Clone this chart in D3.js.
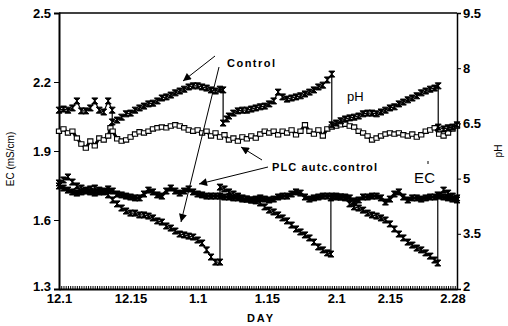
<!DOCTYPE html>
<html>
<head>
<meta charset="utf-8">
<script src="https://cdn.jsdelivr.net/npm/d3@7"></script>
<style>
  body { margin: 0; background: #fff; }
  svg { display: block; font-family: "Liberation Sans", Arial, Helvetica, sans-serif; }
</style>
</head>
<body>
<div id="chart"></div>
<script>
// Day 0 = 12.1.
const dayTicks = [0, 16, 31, 46.5, 62, 74, 88]
const dayLabels = ['12.1', '12.15', '1.1', '1.15', '2.1', '2.15', '2.28']
const ecTicks = [1.3, 1.6, 1.9, 2.2, 2.5]
const phTicks = [2, 3.5, 5, 6.5, 8, 9.5]

// [day, pH] control (no PLC), sawtooth with manual resets.
const controlPH = [
  [0,6.86],[1,6.89],[2,6.86],[3,6.92],[4,7.11],[5,6.84],[6,6.84],[7,6.92],[8,7.11],[9,6.86],[10,6.81],[11,7.11],
  [11.9,6.86],[11.9,6.54],[13,6.59],[14,6.67],[15,6.76],[16,6.78],[17,6.86],[18,6.92],[19,6.97],[20,7.03],
  [21,7.05],[22,7.11],[23,7.19],[24,7.22],[25,7.27],[26,7.33],[27,7.38],[28,7.43],[29,7.49],[30,7.52],[31,7.52],
  [32,7.49],[33,7.46],[34,7.41],[35,7.38],[36,7.43],[36.7,7.41],[36.7,6.51],[37.5,6.62],[38,6.70],[39,6.78],
  [40,6.84],[41,6.86],[42,6.86],[43,6.89],[44,6.92],[45,6.95],[46,6.97],[47,7.03],[48,7.11],[49,7.35],[50,7.22],
  [51,7.16],[52,7.19],[53,7.22],[54,7.25],[55,7.30],[56,7.35],[57,7.41],[58,7.49],[59,7.54],[60,7.68],[61,7.84],
  [61,6.46],[62,6.51],[63,6.57],[64,6.62],[65,6.65],[66,6.67],[67,6.70],[68,6.76],[69,6.78],[70,6.78],[71,6.76],
  [72,6.81],[73,6.86],[74,6.92],[75,6.95],[76,7.03],[77,7.08],[78,7.14],[79,7.19],[80,7.25],[81,7.33],[82,7.38],
  [83,7.43],[84,7.46],[84.8,7.52],[84.8,6.40],[86,6.35],[87,6.38],[88,6.40],[89,6.46]
]

// [day, pH] PLC automatic control.
const plcPH = [
  [0,6.29],[1,6.35],[2,6.24],[3,6.29],[4,6.10],[5,5.94],[6,5.83],[7,6.02],[8,5.89],[9,6.10],[10,6.05],[11,6.16],
  [11.5,6.38],[12,6.29],[13,6.08],[14,6.02],[15,6.05],[16,6.13],[17,6.21],[18,6.27],[19,6.24],[20,6.29],[21,6.35],
  [22,6.38],[23,6.40],[24,6.38],[25,6.43],[26,6.46],[27,6.43],[28,6.38],[29,6.32],[30,6.29],[31,6.32],[32,6.24],
  [33,6.29],[34,6.16],[35,6.24],[36,6.13],[37,6.19],[38,6.05],[39,6.10],[40,6.02],[41,6.13],[42,6.08],[43,6.16],
  [44,6.10],[45,6.21],[46,6.29],[47,6.24],[48,6.29],[49,6.19],[50,6.29],[51,6.24],[52,6.32],[53,6.19],[54,6.29],
  [55,6.46],[56,6.29],[57,6.21],[58,6.32],[59,6.16],[60,6.35],[61,6.40],[62,6.43],[63,6.46],[64,6.48],[65,6.43],
  [66,6.40],[67,6.29],[68,6.24],[69,6.16],[70,6.05],[71,6.10],[72,6.16],[73,6.21],[74,6.24],[75,6.21],[76,6.24],
  [77,6.19],[78,6.16],[79,6.21],[80,6.13],[81,6.19],[82,6.29],[83,6.32],[84,6.38],[85,6.21],[86,6.16],[87,6.24],
  [88,6.35],[89,6.43]
]

// [day, EC mS/cm] control, falls then reset.
const controlEC = [
  [0,1.761],[1,1.774],[2,1.787],[3,1.765],[4,1.748],[5,1.739],[6,1.730],[7,1.735],[8,1.739],[9,1.730],[10,1.722],
  [11,1.709],[12,1.687],[13,1.670],[14,1.652],[15,1.639],[16,1.630],[17,1.630],[18,1.622],[19,1.622],[20,1.617],
  [21,1.609],[22,1.596],[23,1.591],[24,1.574],[25,1.565],[26,1.552],[27,1.539],[28,1.535],[29,1.530],[30,1.526],
  [31,1.513],[32,1.500],[33,1.470],[34,1.439],[35,1.417],[36,1.417],[36,1.743],[37,1.735],[38,1.722],[39,1.713],
  [40,1.704],[41,1.696],[42,1.691],[43,1.687],[44,1.683],[45,1.674],[46,1.657],[47,1.643],[48,1.635],[49,1.622],
  [50,1.609],[51,1.596],[52,1.578],[53,1.561],[54,1.548],[55,1.535],[56,1.522],[57,1.504],[58,1.483],[59,1.470],
  [60,1.457],[60.8,1.452],[60.8,1.696],[62,1.700],[63,1.700],[64,1.696],[65,1.670],[66,1.657],[67,1.652],[68,1.643],
  [69,1.630],[70,1.622],[71,1.617],[72,1.609],[73,1.600],[74,1.583],[75,1.561],[76,1.539],[77,1.522],[78,1.504],
  [79,1.491],[80,1.478],[81,1.470],[82,1.457],[83,1.443],[84,1.426],[84.7,1.413],[84.7,1.709],[86,1.730],[87,1.717],
  [88,1.704],[89,1.696]
]

// [day, EC mS/cm] PLC automatic control.
const plcEC = [
  [0,1.748],[1,1.739],[2,1.730],[3,1.722],[4,1.717],[5,1.722],[6,1.726],[7,1.722],[8,1.717],[9,1.722],[10,1.726],
  [11,1.735],[12,1.726],[13,1.713],[14,1.709],[15,1.704],[16,1.700],[17,1.696],[18,1.696],[19,1.713],[20,1.730],
  [21,1.722],[22,1.709],[23,1.704],[24,1.726],[25,1.739],[26,1.726],[27,1.717],[28,1.726],[29,1.735],[30,1.722],
  [31,1.713],[32,1.709],[33,1.704],[34,1.704],[35,1.704],[36,1.704],[37,1.700],[38,1.700],[39,1.696],[40,1.696],
  [41,1.691],[42,1.691],[43,1.687],[44,1.691],[45,1.696],[46,1.691],[47,1.687],[48,1.691],[49,1.700],[50,1.704],
  [51,1.704],[52,1.713],[53,1.722],[54,1.717],[55,1.700],[56,1.691],[57,1.696],[58,1.700],[59,1.704],[60,1.704],
  [61,1.704],[62,1.704],[63,1.700],[64,1.700],[65,1.696],[66,1.683],[67,1.687],[68,1.700],[69,1.700],[70,1.704],
  [71,1.704],[72,1.696],[73,1.678],[74,1.691],[75,1.713],[76,1.722],[77,1.700],[78,1.687],[79,1.696],[80,1.696],
  [81,1.691],[82,1.696],[83,1.700],[84,1.700],[85,1.704],[86,1.700],[87,1.696],[88,1.691],[89,1.687]
]

const width = 508
const height = 326
const margin = { top: 13, right: 51, bottom: 37, left: 59 }

const svg = d3.select('#chart')
  .append('svg')
  .attr('width', width)
  .attr('height', height)

const x = d3.scaleLinear()
  .domain([0, 89])
  .range([margin.left, width - margin.right])
const yEC = d3.scaleLinear()
  .domain([1.3, 2.5])
  .range([height - margin.bottom, margin.top])
const yPH = d3.scaleLinear()
  .domain([2, 9.5])
  .range([height - margin.bottom, margin.top])

svg.append('defs')
  .append('marker')
  .attr('id', 'arrowhead')
  .attr('markerUnits', 'userSpaceOnUse')
  .attr('viewBox', '0 0 10 10')
  .attr('refX', 10)
  .attr('refY', 5)
  .attr('markerWidth', 11)
  .attr('markerHeight', 8)
  .attr('orient', 'auto')
  .append('path')
  .attr('d', 'M 0 0 L 10 5 L 0 10 z')
  .attr('fill', '#000')

/**
 * Axes.
 */
const x0 = x.range()[0], x1 = x.range()[1]
const yTop = yEC.range()[1], yBot = yEC.range()[0]

// top border
svg.append('line')
  .attr('x1', x0).attr('x2', x1).attr('y1', yTop).attr('y2', yTop)
  .attr('stroke', '#000').attr('stroke-width', 1.5)

// left EC axis
const leftAxis = svg.append('g')
  .attr('transform', `translate(${x0},0)`)
  .call(d3.axisLeft(yEC).tickValues(ecTicks).tickSize(5).tickPadding(3).tickFormat(d3.format('.1f')))
leftAxis.select('.domain').attr('stroke-width', 2)
leftAxis.selectAll('.tick text').attr('dy', (d, i) => i === 0 ? '0.15em' : '0.32em')

// right pH axis
const rightAxis = svg.append('g')
  .attr('transform', `translate(${x1},0)`)
  .call(d3.axisRight(yPH).tickValues(phTicks).tickSize(4).tickPadding(2).tickFormat(d => String(d)))
rightAxis.select('.domain').attr('stroke-width', 1.5)
rightAxis.selectAll('.tick text').attr('dy', (d, i) => i === 0 ? '0.1em' : '0.32em')

// bottom day axis
const bottomAxis = svg.append('g')
  .attr('transform', `translate(0,${yBot})`)
  .call(d3.axisBottom(x).tickValues(dayTicks).tickSize(0).tickPadding(5)
    .tickFormat((d, i) => dayLabels[i]))
bottomAxis.select('.domain').attr('stroke-width', 2)

// dense minor ticks inside the plot along the bottom
svg.append('g')
  .attr('transform', `translate(0,${yBot})`)
  .call(d3.axisTop(x).tickValues(d3.range(0.5, 89, 0.5)).tickSize(3).tickFormat(''))
  .call(g => g.select('.domain').remove())
  .selectAll('line').attr('stroke-width', 1)

svg.selectAll('.tick text')
  .attr('fill', '#000')
  .attr('font-size', 13)
  .attr('font-weight', 'bold')
  .attr('font-family', '"Liberation Sans", Arial, sans-serif')
svg.selectAll('.domain, .tick line').attr('stroke', '#000')

/**
 * Axis titles.
 */
svg.append('text')
  .attr('transform', `translate(14,${(yTop + yBot) / 2 + 8}) rotate(-90)`)
  .attr('text-anchor', 'middle')
  .attr('font-size', 10)
  .text('EC (mS/cm)')
svg.append('text')
  .attr('transform', `translate(502,${(yTop + yBot) / 2}) rotate(-90)`)
  .attr('text-anchor', 'middle')
  .attr('font-size', 10)
  .text('pH')
svg.append('text')
  .attr('x', (x0 + x1) / 2 + 2)
  .attr('y', 322)
  .attr('text-anchor', 'middle')
  .attr('font-size', 11)
  .attr('font-weight', 'bold')
  .attr('textLength', 26)
  .text('DAY')

/**
 * Series.
 */
const hourglass = 'M-3,-3 H3 L-3,3 H3 Z'

function series(data, yScale, lineWidth, kind) {
  const g = svg.append('g')
  g.append('path')
    .datum(data)
    .attr('fill', 'none')
    .attr('stroke', '#000')
    .attr('stroke-width', lineWidth)
    .attr('stroke-linejoin', 'round')
    .attr('d', d3.line().x(d => x(d[0])).y(d => yScale(d[1])))
  const pts = g.selectAll('.pt')
    .data(data)
    .enter()
    .append('path')
    .attr('transform', d => `translate(${x(d[0])},${yScale(d[1])})`)
  if (kind === 'square') {
    pts.attr('d', 'M-2.6,-2.2 H2.6 V2.2 H-2.6 Z')
      .attr('fill', '#fff')
      .attr('stroke', '#000')
      .attr('stroke-width', 1.1)
  } else {
    pts.attr('d', hourglass)
      .attr('fill', '#000')
      .attr('stroke', '#000')
      .attr('stroke-width', 1)
  }
}

series(controlEC, yEC, 1.2, 'filled')
series(plcEC, yEC, 3, 'filled')
series(plcPH, yPH, 3, 'square')
series(controlPH, yPH, 1.2, 'filled')

/**
 * Annotations.
 */
const arrows = [
  [215, 56, 183, 81],
  [219, 67, 181, 222],
  [262, 160, 241, 147],
  [268, 167, 199, 184]
]
svg.selectAll('.arrow')
  .data(arrows)
  .enter()
  .append('line')
  .attr('x1', d => d[0]).attr('y1', d => d[1])
  .attr('x2', d => d[2]).attr('y2', d => d[3])
  .attr('stroke', '#000')
  .attr('stroke-width', 1)
  .attr('marker-end', 'url(#arrowhead)')

svg.append('text')
  .attr('x', 227).attr('y', 67)
  .attr('font-size', 11).attr('font-weight', 'bold')
  .attr('textLength', 48)
  .text('Control')
svg.append('text')
  .attr('x', 272).attr('y', 171)
  .attr('font-size', 11).attr('font-weight', 'bold')
  .attr('textLength', 105)
  .text('PLC autc.control')
svg.append('text')
  .attr('x', 347).attr('y', 101)
  .attr('font-size', 13)
  .text('pH')
svg.append('text')
  .attr('x', 414).attr('y', 183)
  .attr('font-size', 15)
  .attr('textLength', 21)
  .text('EC')
// small tick mark above "EC"
svg.append('line')
  .attr('x1', 428).attr('x2', 428).attr('y1', 161).attr('y2', 164)
  .attr('stroke', '#000').attr('stroke-width', 1)
</script>
</body>
</html>
